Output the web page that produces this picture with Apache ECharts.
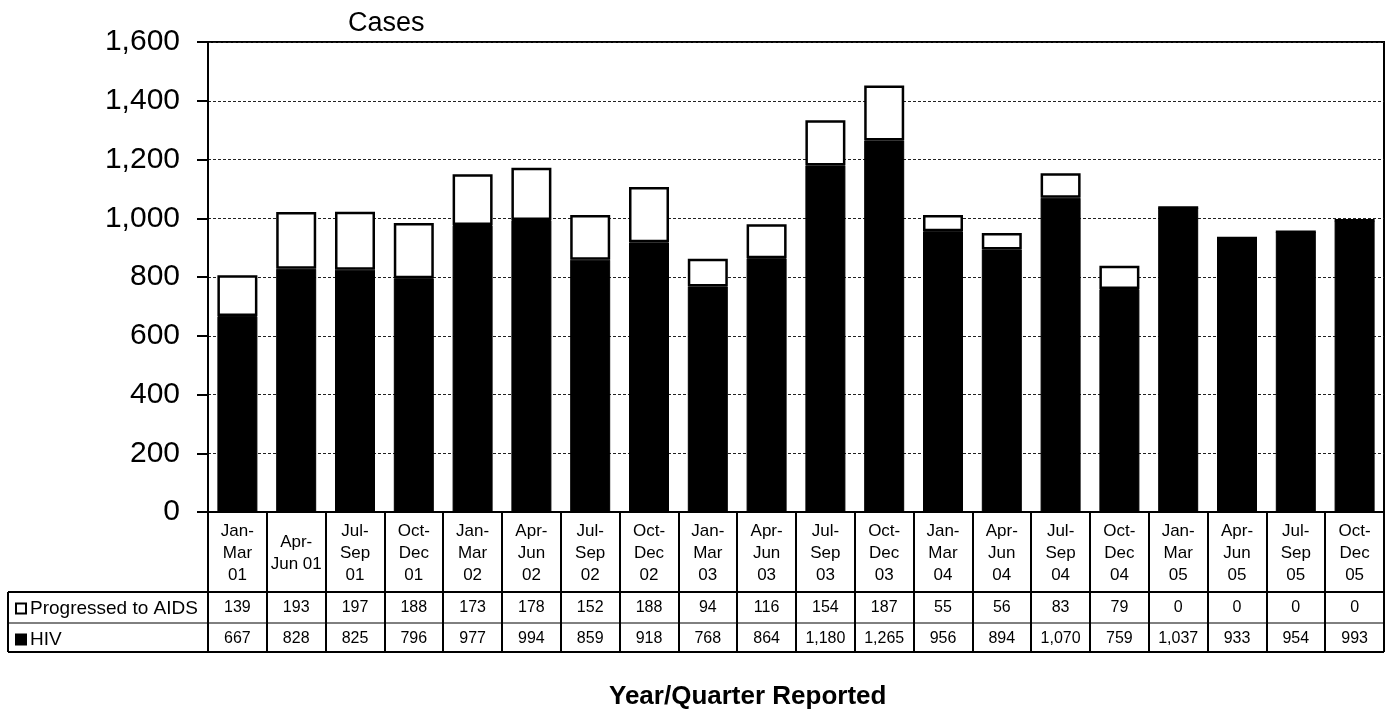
<!DOCTYPE html>
<html>
<head>
<meta charset="utf-8">
<script src="https://cdn.jsdelivr.net/npm/echarts@6/dist/echarts.min.js"></script>
<style>
  html, body { margin: 0; padding: 0; background: #fff; }
  #chart { width: 1388px; height: 710px; }
</style>
</head>
<body>
<div id="chart"></div>
<script>
// quarters, as printed in the table header
const quarters = [
  'Jan-\nMar\n01', 'Apr-\nJun 01', 'Jul-\nSep\n01', 'Oct-\nDec\n01',
  'Jan-\nMar\n02', 'Apr-\nJun\n02', 'Jul-\nSep\n02', 'Oct-\nDec\n02',
  'Jan-\nMar\n03', 'Apr-\nJun\n03', 'Jul-\nSep\n03', 'Oct-\nDec\n03',
  'Jan-\nMar\n04', 'Apr-\nJun\n04', 'Jul-\nSep\n04', 'Oct-\nDec\n04',
  'Jan-\nMar\n05', 'Apr-\nJun\n05', 'Jul-\nSep\n05', 'Oct-\nDec\n05'
]
const hiv = [667, 828, 825, 796, 977, 994, 859, 918, 768, 864, 1180, 1265, 956, 894, 1070, 759, 1037, 933, 954, 993]
const aids = [139, 193, 197, 188, 173, 178, 152, 188, 94, 116, 154, 187, 55, 56, 83, 79, 0, 0, 0, 0]
const yTicks = { min: 0, max: 1600, interval: 200 }

const font = 'Liberation Sans, Arial, sans-serif'
const fmt = v => v.toLocaleString('en-US')

const chart = echarts.init(document.getElementById('chart'))

// table rows: extra x axes on the same grid, only labels shown
const tableRow = (values, margin) => ({
  type: 'category',
  data: quarters,
  position: 'bottom',
  axisLine: { show: false },
  axisTick: { show: false },
  axisLabel: {
    interval: 0,
    margin: margin,
    verticalAlign: 'middle',
    fontFamily: font,
    fontSize: 16,
    color: '#000',
    formatter: (v, i) => fmt(values[i])
  }
})

chart.setOption({
  animation: false,
  title: [
    { text: 'Cases', left: 343, top: 5, textStyle: { fontFamily: font, fontSize: 27, fontWeight: 'normal', color: '#000' } },
    { text: 'Year/Quarter Reported', left: 604, top: 679, textStyle: { fontFamily: font, fontSize: 26, fontWeight: 'bold', color: '#000' } }
  ],
  legend: {
    data: ['Progressed to AIDS', 'HIV'],
    orient: 'vertical',
    left: 10,
    top: 593,
    icon: 'rect',
    itemWidth: 10,
    itemHeight: 10,
    itemGap: 10,
    textStyle: { fontFamily: font, fontSize: 19, color: '#000', lineHeight: 21, padding: [0, 0, 0, -1] },
    selectedMode: false
  },
  grid: {
    left: 208, right: 4, top: 42, bottom: 198,
    show: true, borderColor: '#000', borderWidth: 2,
    containLabel: false
  },
  xAxis: [
    {
      type: 'category',
      data: quarters,
      axisLine: { lineStyle: { color: '#000', width: 2 } },
      axisTick: { show: true, interval: 0, length: 140, lineStyle: { color: '#000', width: 2 } },
      axisLabel: {
        interval: 0,
        margin: 41,
        verticalAlign: 'middle',
        lineHeight: 22,
        fontFamily: font,
        fontSize: 17,
        color: '#000'
      }
    },
    tableRow(aids, 96),
    tableRow(hiv, 127)
  ],
  yAxis: {
    type: 'value',
    min: yTicks.min,
    max: yTicks.max,
    interval: yTicks.interval,
    axisLine: { show: true, lineStyle: { color: '#000', width: 2 } },
    axisTick: { show: true, length: 11, lineStyle: { color: '#000', width: 2 } },
    axisLabel: { margin: 28, fontFamily: font, fontSize: 30, color: '#000', formatter: fmt },
    splitLine: { lineStyle: { color: '#222', width: 1, type: [3, 2] } }
  },
  series: [
    {
      name: 'HIV',
      type: 'bar',
      stack: 'cases',
      data: hiv,
      barWidth: 40,
      itemStyle: { color: '#000', borderColor: '#000', borderWidth: 1 }
    },
    {
      name: 'Progressed to AIDS',
      type: 'bar',
      stack: 'cases',
      data: aids,
      barWidth: 40,
      itemStyle: { color: '#fff', borderColor: '#000', borderWidth: 2.5 }
    }
  ],
  graphic: [
    // table outline and row separators
    { type: 'line', shape: { x1: 8, y1: 592, x2: 1384, y2: 592 }, style: { stroke: '#000', lineWidth: 2 } },
    { type: 'line', shape: { x1: 8, y1: 623, x2: 1384, y2: 623 }, style: { stroke: '#000', lineWidth: 1 } },
    { type: 'line', shape: { x1: 8, y1: 652, x2: 1384, y2: 652 }, style: { stroke: '#000', lineWidth: 2 } },
    { type: 'line', shape: { x1: 8, y1: 592, x2: 8, y2: 652 }, style: { stroke: '#000', lineWidth: 2 } }
  ]
})
</script>
</body>
</html>
